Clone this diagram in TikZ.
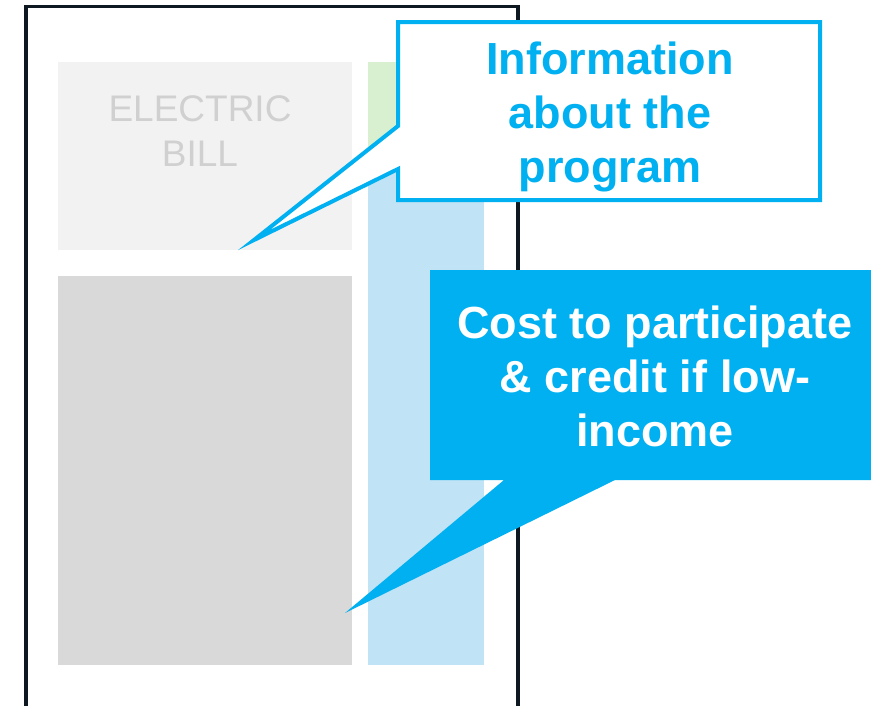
\documentclass[tikz,border=0pt]{standalone}
\usepackage{fontspec}
\setmainfont{Liberation Sans}
\definecolor{frameblack}{HTML}{0D1821}
\definecolor{billgray}{HTML}{F2F2F2}
\definecolor{darkgray}{HTML}{D9D9D9}
\definecolor{lightgreen}{HTML}{D8F0D0}
\definecolor{lightblue}{HTML}{C0E3F5}
\definecolor{cyanbrand}{HTML}{00B0F0}
\definecolor{faintgray}{HTML}{D0D0D0}
\tikzset{
  panel/.style={draw=none, inner sep=0pt, outer sep=0pt},
  calloutline/.style={draw=cyanbrand, line width=4pt, fill=white, line join=miter, miter limit=20},
  calloutfill/.style={fill=cyanbrand, draw=none},
  bigtext/.style={font=\bfseries\fontsize{45}{54}\selectfont, align=center, inner sep=0pt},
}
\begin{document}
\begin{tikzpicture}[x=1pt,y=-1pt]
\useasboundingbox (0,0) rectangle (871,705);
\fill[white] (0,0) rectangle (871,705);
% frame
\coordinate (fbl) at (26,712);
\coordinate (ftl) at (26,6.5);
\coordinate (ftr) at (518,6.5);
\coordinate (fbr) at (518,712);
\draw[frameblack, line width=3.8pt] (fbl) -- (ftl) -- (ftr) -- (fbr);
% panels
\path[panel, fill=billgray] (58,62) rectangle (352,250);
\path[panel, fill=darkgray] (58,276) rectangle (352,665);
\path[panel, fill=lightgreen] (368,62) rectangle (484,165);
\path[panel, fill=lightblue] (368,165) rectangle (484,665);
\node[font=\fontsize{37}{45}\selectfont, text=faintgray, align=center, inner sep=0pt] (bill) at (200,131) {ELECTRIC\\BILL};
% callout 1
\coordinate (c1tip) at (254,240);
\draw[calloutline] (398,22) -- (820,22) -- (820,200) -- (398,200) -- (398,169) -- (c1tip) -- (398,126) -- cycle;
\node[bigtext, text=cyanbrand] (info) at (610,117) {Information\\about the\\program};
% callout 2
\coordinate (c2tip) at (345,613);
\fill[calloutfill] (430,270) -- (871,270) -- (871,480) -- (615,480) -- (c2tip) -- (504,480) -- (430,480) -- cycle;
\node[bigtext, text=white] (cost) at (655,376.5) {Cost to participate\\\& credit if low-\\income};
\end{tikzpicture}
\end{document}
